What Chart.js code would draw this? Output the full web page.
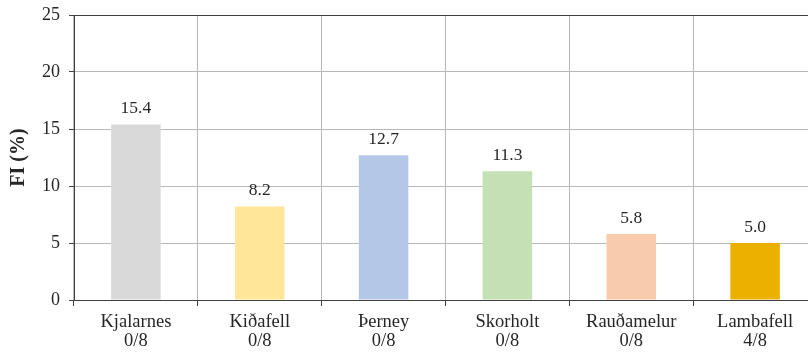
<!DOCTYPE html>
<html>
<head>
<meta charset="utf-8">
<script src="https://cdn.jsdelivr.net/npm/chart.js@4"></script>
<style>
  html, body { margin: 0; padding: 0; background: #fff; overflow: hidden; }
  #wrap { width: 818px; height: 353px; }
</style>
</head>
<body>
<div id="wrap"><canvas id="fiChart"></canvas></div>
<script>
// Sites and their FI values
const sites = ['Kjalarnes', 'Kiðafell', 'Þerney', 'Skorholt', 'Rauðamelur', 'Lambafell'];
const ratios = ['0/8', '0/8', '0/8', '0/8', '0/8', '4/8'];
const fiValues = [15.4, 8.2, 12.7, 11.3, 5.8, 5.0];
const barColors = ['#d9d9d9', '#ffe699', '#b4c7e7', '#c5e0b4', '#f8cbad', '#ebb000'];
const yTicks = [0, 5, 10, 15, 20, 25];

const textColor = '#262626';
const axisColor = '#404040';
const gridColor = '#b8b8b8';

// Value labels above each bar
const valueLabels = {
    id: 'valueLabels',
    afterDatasetsDraw(chart) {
        const c = chart.ctx;
        const meta = chart.getDatasetMeta(0);
        c.save();
        c.font = '17.5px "Liberation Serif", "Times New Roman", serif';
        c.fillStyle = textColor;
        c.textAlign = 'center';
        c.textBaseline = 'bottom';
        meta.data.forEach((bar, i) => {
            c.fillText(fiValues[i].toFixed(1), bar.x, bar.y - 7);
        });
        c.restore();
    }
};

const ctx = document.getElementById('fiChart').getContext('2d');
const fiChart = new Chart(ctx, {
    type: 'bar',
    data: {
        labels: sites.map((s, i) => [s, ratios[i]]),
        datasets: [{
            data: fiValues,
            backgroundColor: barColors,
            barPercentage: 0.4,
            categoryPercentage: 1.0
        }]
    },
    options: {
        responsive: true,
        maintainAspectRatio: false,
        animation: false,
        layout: { padding: { top: 15, right: 1, left: 0, bottom: 0 } },
        plugins: {
            legend: { display: false },
            tooltip: { enabled: false }
        },
        scales: {
            x: {
                grid: {
                    offset: true,
                    color: gridColor,
                    tickColor: axisColor,
                    tickLength: 6
                },
                border: { color: axisColor, width: 1 },
                ticks: {
                    color: textColor,
                    padding: 6,
                    maxRotation: 0,
                    autoSkip: false,
                    font: { family: '"Liberation Serif", "Times New Roman", serif', size: 18.5, lineHeight: 1.05 }
                },
                afterFit(scale) { scale.height = 53; }
            },
            y: {
                min: 0,
                max: 25,
                afterBuildTicks(scale) { scale.ticks = yTicks.map(v => ({ value: v })); },
                grid: {
                    color: c => c.tick && c.tick.value === 25 ? axisColor : gridColor,
                    tickColor: axisColor,
                    tickLength: 5
                },
                border: { color: axisColor, width: 1 },
                ticks: {
                    color: textColor,
                    padding: 9,
                    font: { family: '"Liberation Serif", "Times New Roman", serif', size: 18 }
                },
                title: {
                    display: true,
                    text: 'FI (%)',
                    color: textColor,
                    padding: { top: 7, bottom: 0 },
                    font: { family: '"Liberation Serif", "Times New Roman", serif', size: 20, weight: 'bold', lineHeight: 1.2 }
                },
                afterFit(scale) {
                    scale.width = 74;
                    scale.paddingTop = 0;
                    scale.paddingBottom = 0;
                }
            }
        }
    },
    plugins: [valueLabels]
});
</script>
</body>
</html>
